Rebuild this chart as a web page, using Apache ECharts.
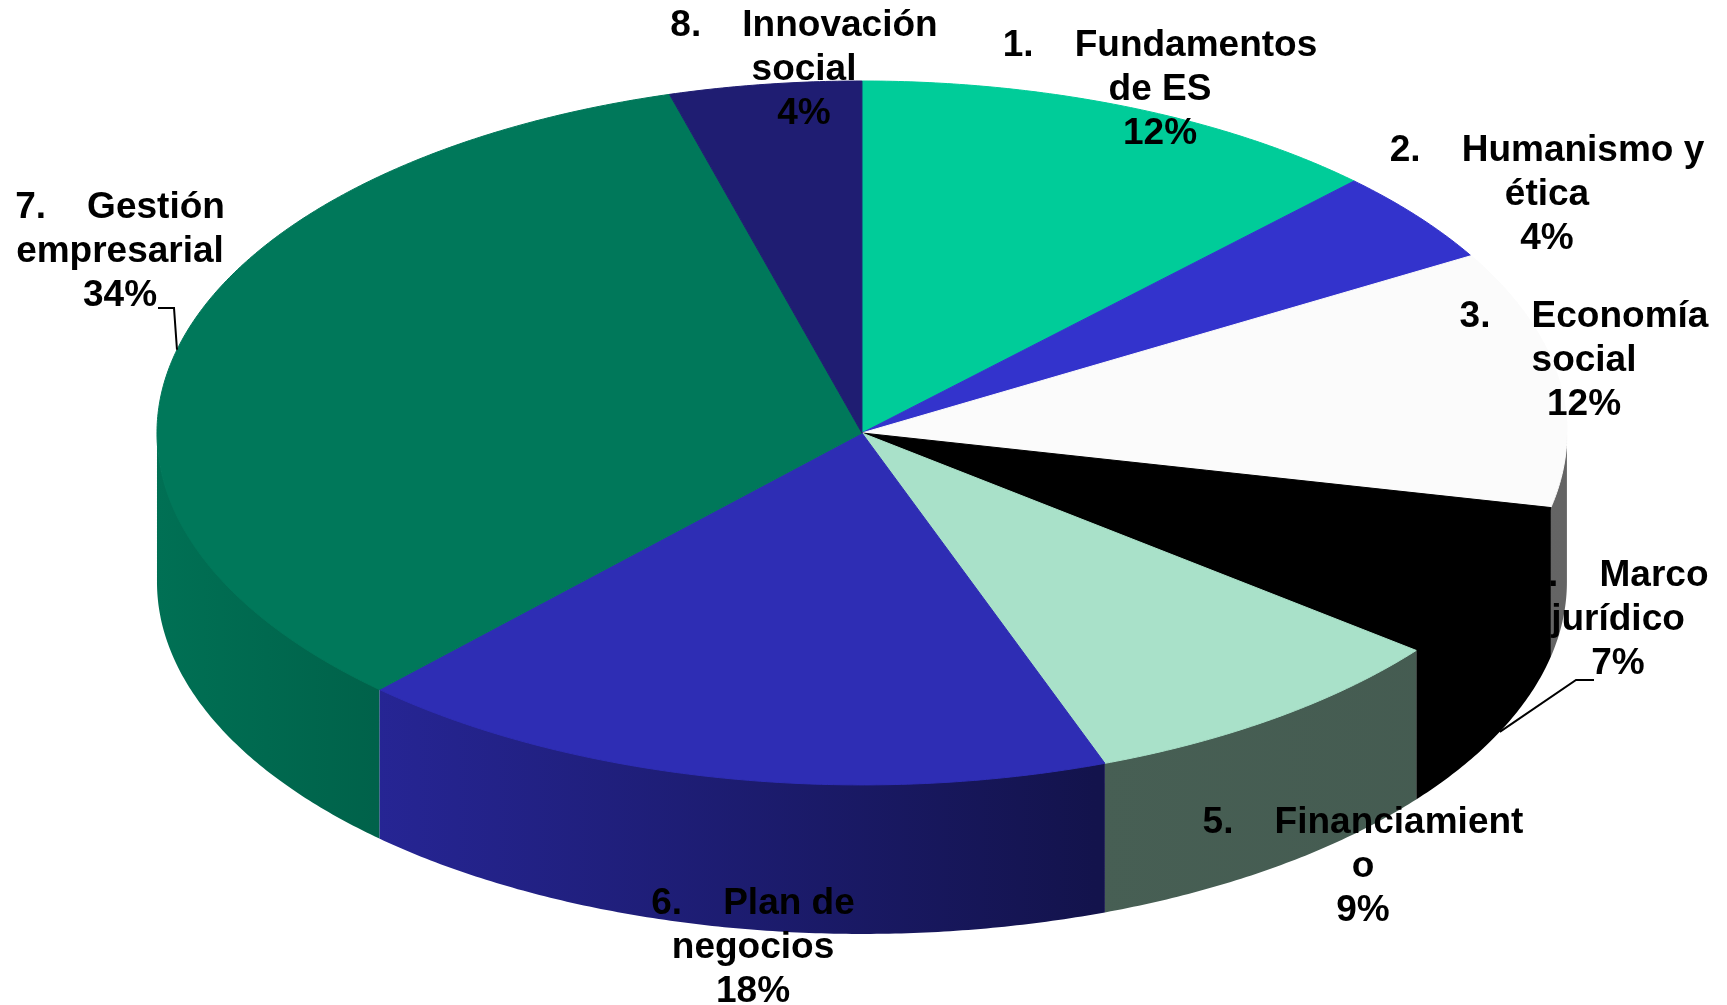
<!DOCTYPE html>
<html>
<head>
<meta charset="utf-8">
<title>Módulos</title>
<script src="https://cdn.jsdelivr.net/npm/echarts@6/dist/echarts.min.js"></script>
<style>
  html, body { margin: 0; padding: 0; background: #fff; }
  #chart { width: 1727px; height: 1005px; }
</style>
</head>
<body>
<div id="chart"></div>
<script>
const modulos = [
  '1.    Fundamentos\nde ES',
  '2.    Humanismo y\nética',
  '3.    Economía\nsocial',
  '4.    Marco\njurídico',
  '5.    Financiamient\no',
  '6.    Plan de\nnegocios',
  '7.    Gestión\nempresarial',
  '8.    Innovación\nsocial'
];
const pesos = [12.3, 4.3, 11.8, 7.2, 8.8, 17.6, 33.6, 4.4];
const colores = ['#00CC99', '#3333CC', '#FBFBFB', '#000000', '#A9E1C9', '#2E2DB4', '#00785A', '#1F1D72'];

// posicion de las etiquetas (px) y las dos que llevan linea guia
const etiquetas = [[1160, 90], [1547, 195], [1584, 361], [1618, 620], [1363, 867], [753, 948], [120, 252], [804, 70]];
const guias = [null, null, null, [[1594, 680], [1576, 680]], null, null, [[158, 308], [174, 308]], null];

// luz de la pared lateral: [posicion horizontal 0-1, factor]
const luz = [[0, 0.93], [0.156, 0.82], [0.666, 0.42], [1, 0.40]];

const total = pesos.reduce((a, b) => a + b, 0);
const inicio = [];
pesos.reduce((acc, v, i) => { inicio[i] = acc; return acc + v; }, 0);

function sombra(hex, f) {
  const n = parseInt(hex.slice(1), 16);
  const r = Math.round(((n >> 16) & 255) * f);
  const g = Math.round(((n >> 8) & 255) * f);
  const b = Math.round((n & 255) * f);
  return 'rgb(' + r + ',' + g + ',' + b + ')';
}

function renderItem(params, api) {
  const i = params.dataIndex;
  const W = api.getWidth(), H = api.getHeight();
  const cx = W * 0.4991, cy = H * 0.4308;
  const rx = W * 0.4082, ry = H * 0.3502, alto = H * 0.1483;
  const v = api.value(0);
  const a0 = inicio[i] / total * 360;
  const a1 = (inicio[i] + v) / total * 360;

  const pt = (deg, dy) => {
    const r = deg * Math.PI / 180;
    return [cx + rx * Math.sin(r), cy - ry * Math.cos(r) + (dy || 0)];
  };
  const arco = (s, e, dy) => {
    const n = Math.max(2, Math.ceil((e - s) / 0.5));
    const out = [];
    for (let k = 0; k <= n; k++) out.push(pt(s + (e - s) * k / n, dy));
    return out;
  };

  const children = [];

  // pared lateral, solo la mitad de delante se ve (el borde de arriba queda tapado por la cara)
  const s = Math.max(a0, 90), e = Math.min(a1, 270);
  if (e > s) {
    const grad = new echarts.graphic.LinearGradient(cx - rx, 0, cx + rx, 0,
      luz.map(d => ({ offset: d[0], color: sombra(colores[i], d[1]) })), true);
    children.push({
      type: 'polygon', z2: 1,
      shape: { points: arco(s, e, -2).concat(arco(s, e, alto).reverse()) },
      style: { fill: grad }
    });
  }

  // cara de arriba
  children.push({
    type: 'polygon', z2: 2,
    shape: { points: [[cx, cy]].concat(arco(a0, a1, 0)) },
    style: { fill: colores[i], stroke: colores[i], lineWidth: 1 }
  });

  // linea guia
  if (guias[i]) {
    const mid = (a0 + a1) / 2;
    const delante = Math.cos(mid * Math.PI / 180) < 0;
    children.push({
      type: 'polyline', z2: 9,
      shape: { points: [guias[i][0], guias[i][1], pt(mid, delante ? alto : 0)] },
      style: { stroke: '#000', lineWidth: 2, fill: null }
    });
  }

  children.push({
    type: 'text', z2: 10,
    style: {
      text: modulos[i] + '\n' + Math.round(v / total * 100) + '%',
      x: etiquetas[i][0], y: etiquetas[i][1],
      fill: '#000',
      fontSize: 37, fontWeight: 'bold',
      fontFamily: '"Liberation Sans", Arial, sans-serif',
      align: 'center', verticalAlign: 'middle',
      lineHeight: 44
    }
  });

  return { type: 'group', children: children };
}

const chart = echarts.init(document.getElementById('chart'));
chart.setOption({
  backgroundColor: '#fff',
  animation: false,
  series: [{
    type: 'custom',
    coordinateSystem: 'none',
    renderItem: renderItem,
    data: pesos
  }]
});
</script>
</body>
</html>
